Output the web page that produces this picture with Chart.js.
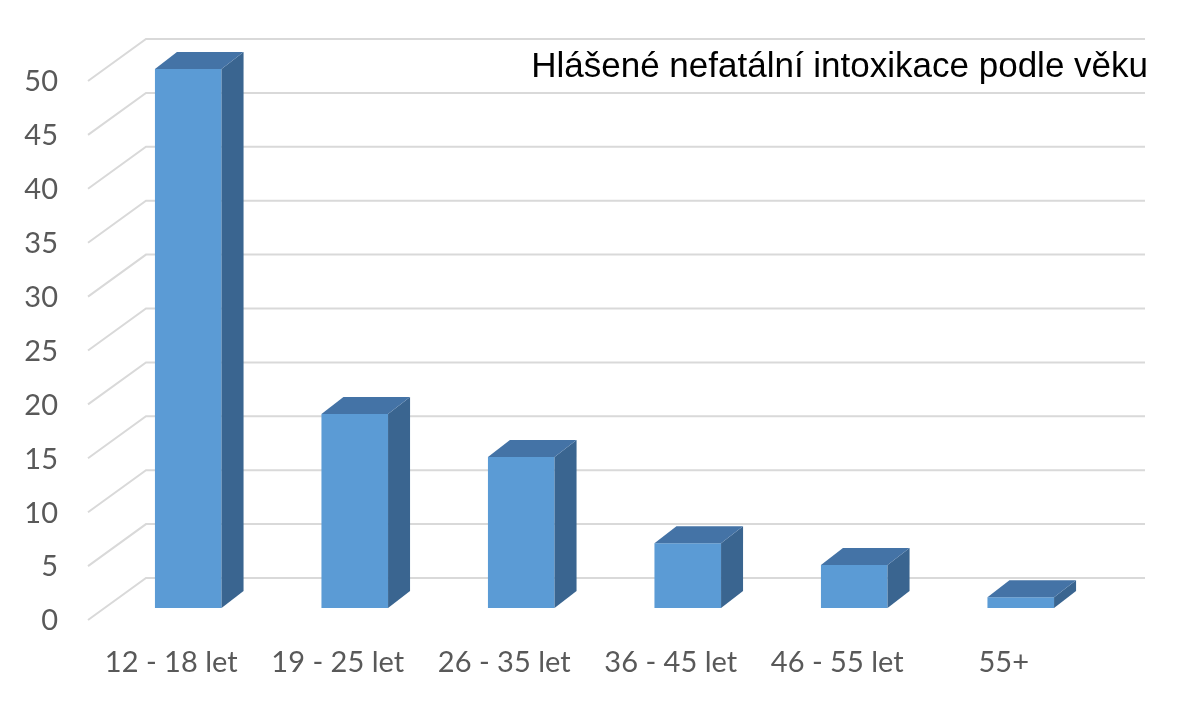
<!DOCTYPE html>
<html>
<head>
<meta charset="utf-8">
<script src="https://cdn.jsdelivr.net/npm/chart.js@4.4.1/dist/chart.umd.min.js"></script>
<style>
  html, body { margin: 0; padding: 0; background: #ffffff; }
  #wrap { width: 1200px; height: 705px; position: relative; }
</style>
</head>
<body>
<div id="wrap"><canvas id="chartAge"></canvas></div>
<script>
// --- Data ---
const ageGroups = ['12 - 18 let', '19 - 25 let', '26 - 35 let', '36 - 45 let', '46 - 55 let', '55+'];
const intoxCounts = [50, 18, 14, 6, 4, 1];
const chartTitle = 'Hlášené nefatální intoxikace podle věku';

// --- 3D look (oblique offsets, px) ---
const depth = { front: [-17, 12], wall: [41, -30], bar: [22, -17] };

const gridWallPlugin = {
    id: 'gridWall',
    beforeDatasetsDraw: (chart) => {
        const { ctx, chartArea: { left, right }, scales: { y } } = chart;
        ctx.save();
        ctx.strokeStyle = '#d9d9d9';
        ctx.lineWidth = 2;
        y.ticks.forEach(t => {
            const py = y.getPixelForValue(t.value);
            ctx.beginPath();
            // diagonal on the side wall
            ctx.moveTo(left + depth.front[0], py + depth.front[1]);
            ctx.lineTo(left + depth.wall[0], py + depth.wall[1]);
            // back wall line
            ctx.lineTo(right + depth.wall[0], py + depth.wall[1]);
            ctx.stroke();
        });
        ctx.restore();
    }
};

const barSidesPlugin = {
    id: 'barSides',
    afterDatasetsDraw: (chart) => {
        const { ctx } = chart;
        const [dx, dy] = depth.bar;
        chart.getDatasetMeta(0).data.forEach(bar => {
            const { x, y, base, width } = bar.getProps(['x', 'y', 'base', 'width'], true);
            const l = x - width / 2, r = x + width / 2;
            ctx.save();
            // side face
            ctx.fillStyle = '#3a6590';
            ctx.beginPath();
            ctx.moveTo(r, y);
            ctx.lineTo(r + dx, y + dy);
            ctx.lineTo(r + dx, base + dy);
            ctx.lineTo(r, base);
            ctx.closePath();
            ctx.fill();
            // top face
            ctx.fillStyle = '#4473a6';
            ctx.beginPath();
            ctx.moveTo(l, y);
            ctx.lineTo(l + dx, y + dy);
            ctx.lineTo(r + dx, y + dy);
            ctx.lineTo(r, y);
            ctx.closePath();
            ctx.fill();
            ctx.restore();
        });
    }
};

const titlePlugin = {
    id: 'cornerTitle',
    afterDraw: (chart) => {
        const { ctx } = chart;
        ctx.save();
        ctx.font = '35px "Liberation Sans", Arial, sans-serif';
        ctx.fillStyle = '#000000';
        ctx.textAlign = 'right';
        ctx.textBaseline = 'alphabetic';
        ctx.fillText(chartTitle, 1148, 77);
        ctx.restore();
    }
};

new Chart(document.getElementById('chartAge'), {
    type: 'bar',
    data: {
        labels: ageGroups,
        datasets: [{
            data: intoxCounts,
            backgroundColor: '#5b9bd5',
            borderWidth: 0,
            categoryPercentage: 1,
            barPercentage: 0.4
        }]
    },
    options: {
        responsive: true,
        maintainAspectRatio: false,
        devicePixelRatio: 1,
        animation: false,
        layout: { padding: { top: 69, right: 96, left: 0, bottom: 0 } },
        plugins: { legend: { display: false }, tooltip: { enabled: false } },
        scales: {
            x: {
                grid: { display: false, drawTicks: false },
                border: { display: false },
                ticks: {
                    color: '#595959',
                    font: { family: 'Lato', size: 29 },
                    padding: 37,
                    labelOffset: -17,
                    maxRotation: 0
                },
                afterFit: (scale) => { scale.height = 97; }
            },
            y: {
                min: 0, max: 50,
                grid: { display: false, drawTicks: false },
                border: { display: false },
                ticks: {
                    stepSize: 5,
                    color: '#595959',
                    font: { family: 'Lato', size: 29 },
                    padding: 47,
                    labelOffset: 13
                },
                afterFit: (scale) => { scale.width = 105; }
            }
        }
    },
    plugins: [gridWallPlugin, barSidesPlugin, titlePlugin]
});
</script>
</body>
</html>
